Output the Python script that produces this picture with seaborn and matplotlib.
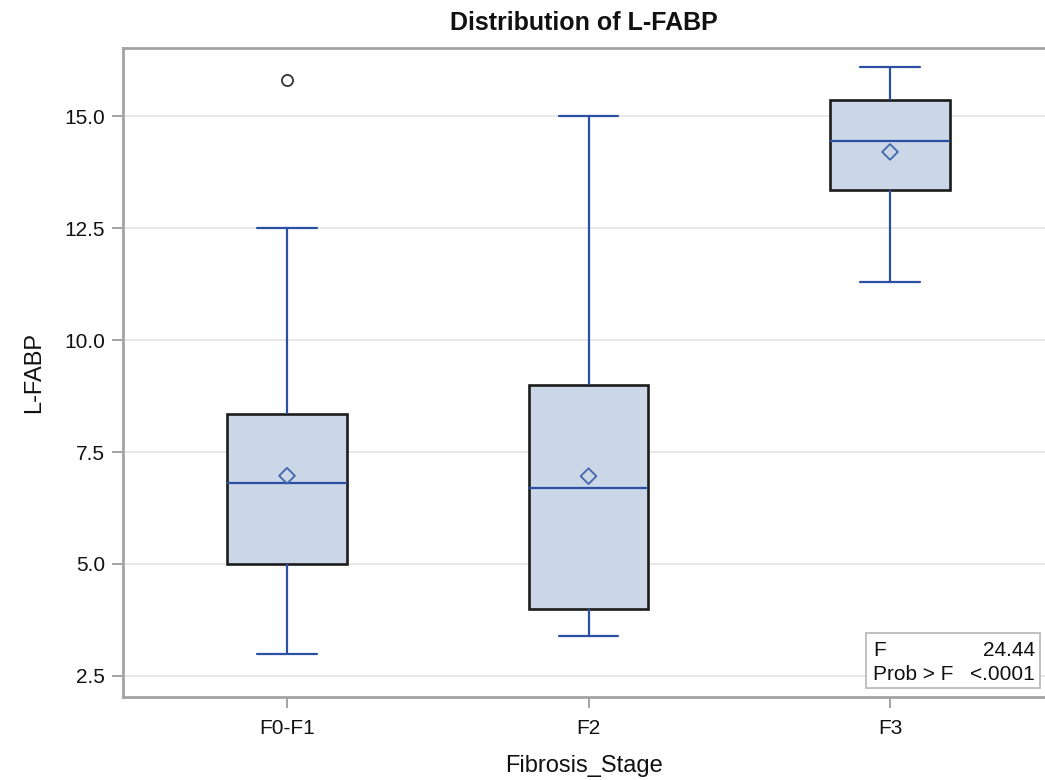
import numpy as np
import pandas as pd
import matplotlib
matplotlib.use("Agg")
import matplotlib.pyplot as plt
import seaborn as sns
from matplotlib.patches import Rectangle

# ---- data ----
categories = ["F0-F1", "F2", "F3"]
lower_whisker = [3.0, 3.4, 11.3]
q1 = [5.0, 4.0, 13.35]
median = [6.8, 6.7, 14.45]
q3 = [8.35, 9.0, 15.35]
upper_whisker = [12.5, 15.0, 16.1]
means = [6.97, 6.96, 14.2]
outliers = [[15.8], [], []]
y_ticks = [2.5, 5.0, 7.5, 10.0, 12.5, 15.0]
stat_names = ["F", "Prob > F"]
stat_values = ["24.44", "<.0001"]

# long table whose quartiles/whiskers reproduce the five-number summaries
rows = []
for i, cat in enumerate(categories):
    summary = [lower_whisker[i], q1[i], median[i], q3[i], upper_whisker[i]]
    vals = list(np.repeat(summary, 4)) + outliers[i]
    rows += [(cat, v) for v in vals]
df = pd.DataFrame(rows, columns=["Fibrosis_Stage", "L-FABP"])

# ---- style ----
sns.set_theme(style="whitegrid")
plt.rcParams["font.family"] = ["Liberation Sans", "DejaVu Sans"]

fill_c = "#CBD6E6"
blue = "#2B50A3"
edge = "#1C1C1C"
spine_c = "#A3A3A3"

fig = plt.figure(figsize=(10.45, 7.8), dpi=100)
ax = fig.add_axes([123 / 1045, 1 - 697 / 780, 922 / 1045, 649 / 780])

sns.boxplot(
    data=df, x="Fibrosis_Stage", y="L-FABP", order=categories,
    width=0.395, whis=1.5, color=fill_c, saturation=1, linecolor=blue,
    linewidth=1.5, fliersize=8, ax=ax,
    boxprops=dict(facecolor=fill_c, edgecolor=edge, linewidth=1.9),
    whiskerprops=dict(color=blue, linewidth=1.6),
    capprops=dict(color=blue, linewidth=1.6),
    medianprops=dict(color=blue, linewidth=1.6),
    flierprops=dict(marker="o", markerfacecolor="white",
                    markeredgecolor="#333333", markeredgewidth=1.3,
                    markersize=8),
)
for p in ax.patches:
    p.set_facecolor(fill_c)
    p.set_edgecolor(edge)
    p.set_linewidth(1.9)

sns.stripplot(
    x=categories, y=means, order=categories, jitter=False, marker="D",
    size=8, color=blue, facecolor="none", edgecolor="#4366AE",
    linewidth=1.3, zorder=6, ax=ax,
)

ax.set_xlim(-0.544, 2.514)
ax.set_ylim(2.03, 16.52)
ax.set_yticks(y_ticks)
ax.set_yticklabels([f"{t:.1f}" for t in y_ticks])

ax.xaxis.grid(False)
ax.yaxis.grid(True, color="#E6E6E6", linewidth=1.3)
ax.set_axisbelow(True)

for side in ["left", "bottom", "top"]:
    ax.spines[side].set_visible(True)
    ax.spines[side].set_color(spine_c)
    ax.spines[side].set_linewidth(2.0)
ax.spines["right"].set_visible(False)

ax.tick_params(axis="both", which="major", length=8, width=1.4,
               color=spine_c, labelsize=15, labelcolor="#111111",
               direction="out", bottom=True, left=True, pad=5)
ax.tick_params(axis="x", pad=8)

ax.set_xlabel("Fibrosis_Stage", fontsize=17, color="#111111", labelpad=12)
ax.set_ylabel("L-FABP", fontsize=17, color="#111111", labelpad=14)
ax.set_title("Distribution of L-FABP", fontsize=18, fontweight="bold",
             color="#111111", pad=13)

# statistics inset
ax.add_patch(Rectangle((0.806, 0.0139), 0.1886, 0.0847, transform=ax.transAxes,
                       facecolor="white", edgecolor="#BBBBBB", linewidth=1.3,
                       zorder=7))
row_y = [0.0724, 0.0354]
for name, val, yy in zip(stat_names, stat_values, row_y):
    ax.text(0.8134, yy, name, transform=ax.transAxes, ha="left", va="center",
            fontsize=15, color="#111111", zorder=8)
    ax.text(0.989, yy, val, transform=ax.transAxes, ha="right", va="center",
            fontsize=15, color="#111111", zorder=8)

fig.savefig("out.png", dpi=100)
